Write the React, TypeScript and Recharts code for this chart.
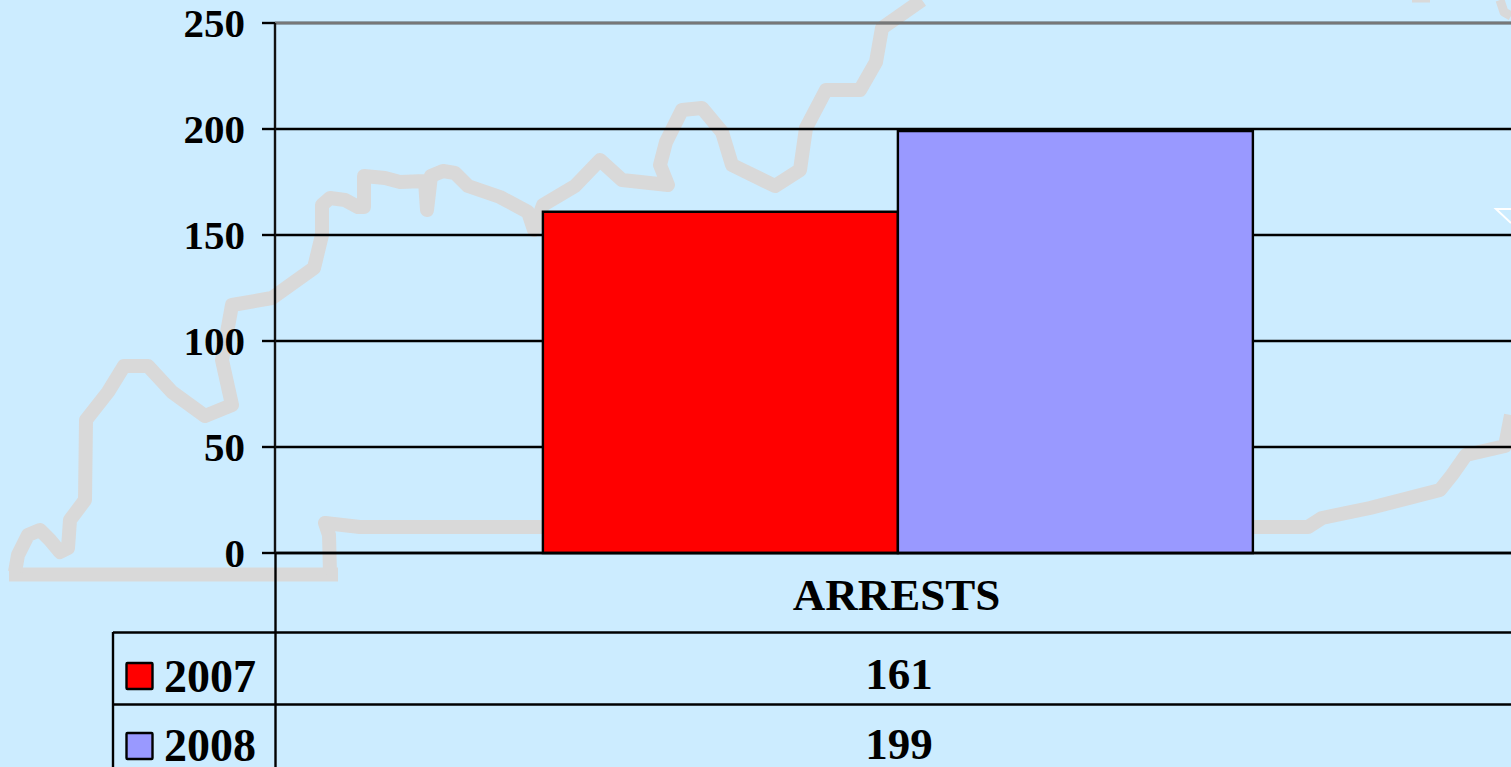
import React from "react";
import { BarChart, Bar, XAxis, YAxis, CartesianGrid, ReferenceLine } from "recharts";

const categories = ["ARRESTS"];
const series2007 = [161];
const series2008 = [199];
const yTicks = [0, 50, 100, 150, 200, 250];
const seriesNames = ["2007", "2008"];
const seriesColors = ["#FF0000", "#9999FF"];

const chartData = categories.map((name, i) => ({
  name,
  y2007: series2007[i],
  y2008: series2008[i],
}));

const FONT = '"Liberation Serif", "Times New Roman", serif';

// Decorative state outline behind the chart (not data)
const mapBottom = "9,574.5 338,574.5";
const mapLower =
  "330,574 329,535 325,523 360,527 1308,527 1322,518 1370,508 1440,490 1452,475 1466,455 1505,446 1511,415";
const mapUpper =
  "15,572 18,555 28,535 40,530 50,540 60,552 68,548 70,520 85,500 86,420 108,392 124,366 148,366 172,392 205,416 232,405 222,360 232,305 272,298 314,268 322,235 322,205 330,198 345,200 358,207 364,207 364,176 385,178 400,182 425,181 427,210 431,176 443,171 455,173 468,186 500,197 528,212 534,230 543,205 575,186 600,160 622,180 668,185 660,165 666,142 682,110 702,108 722,132 732,165 775,186 800,170 806,128 826,90 860,90 876,62 882,28 922,0";

const Overlay = () => (
  <svg
    width={1511}
    height={767}
    style={{ position: "absolute", left: 0, top: 0, pointerEvents: "none" }}
  >
    <g stroke="#000" strokeWidth={2.4}>
      <line x1={113} y1={632.5} x2={1511} y2={632.5} />
      <line x1={113} y1={704.5} x2={1511} y2={704.5} />
      <line x1={113} y1={632} x2={113} y2={767} />
      <line x1={275.5} y1={553} x2={275.5} y2={767} />
    </g>
    {seriesNames.map((name, i) => {
      const values = i === 0 ? series2007 : series2008;
      const top = i === 0 ? 663 : 733;
      const baseline = i === 0 ? 692 : 761;
      const valueBaseline = i === 0 ? 689 : 759;
      return (
        <g key={name} fontFamily={FONT} fontWeight="bold" fill="#000">
          <rect x={126.5} y={top} width={26} height={26} rx={1} fill={seriesColors[i]} stroke="#000" strokeWidth={2.4} />
          <text x={164} y={baseline} fontSize={46}>{name}</text>
          <text x={899} y={valueBaseline} fontSize={45} textAnchor="middle">{values[0]}</text>
        </g>
      );
    })}
  </svg>
);

export default function App() {
  return (
    <div
      style={{
        position: "fixed",
        left: 0,
        top: 0,
        width: 1511,
        height: 767,
        overflow: "hidden",
        background: "#CCECFF",
      }}
    >
      <svg width={1511} height={767} style={{ position: "absolute", left: 0, top: 0 }}>
        <g fill="none" stroke="#D9D9D9" strokeWidth={14} strokeLinejoin="round">
          <polyline points={mapBottom} />
          <polyline points={mapLower} />
          <polyline points={mapUpper} />
          <polyline points="1412,0 1430,0" strokeWidth={5} />
          <polyline points="1500,0 1504,12 1511,16" strokeWidth={9} />
        </g>
        <polyline points="1511,209 1496,209 1511,223" fill="none" stroke="#FFFFFF" strokeWidth={2} />
      </svg>
      <div style={{ position: "absolute", left: 0, top: 0 }}>
        <BarChart
          width={1530}
          height={767}
          data={chartData}
          margin={{ top: 23, right: 9, bottom: 0, left: 0 }}
          barCategoryGap="21.5%"
          barGap={0}
        >
          <CartesianGrid vertical={false} stroke="#000" strokeWidth={2.4} />
          <XAxis
            dataKey="name"
            height={214}
            tickLine={false}
            axisLine={{ stroke: "#000", strokeWidth: 2.4 }}
            tickMargin={19}
            tick={{ fontFamily: FONT, fontWeight: "bold", fontSize: 45, fill: "#000", dx: -1.5 }}
          />
          <YAxis
            width={275}
            domain={[0, 250]}
            ticks={yTicks}
            tickSize={13}
            tickMargin={17}
            interval={0}
            axisLine={{ stroke: "#111", strokeWidth: 2.4 }}
            tickLine={{ stroke: "#000", strokeWidth: 2.4 }}
            tick={{ fontFamily: FONT, fontWeight: "bold", fontSize: 41, fill: "#000", dy: -1 }}
          />
          <ReferenceLine y={250} stroke="#777777" strokeWidth={2.4} />
          <Bar dataKey="y2007" name="2007" fill={seriesColors[0]} stroke="#000" strokeWidth={2.4} isAnimationActive={false} />
          <Bar dataKey="y2008" name="2008" fill={seriesColors[1]} stroke="#000" strokeWidth={2.4} isAnimationActive={false} />
        </BarChart>
      </div>
      <Overlay />
    </div>
  );
}
